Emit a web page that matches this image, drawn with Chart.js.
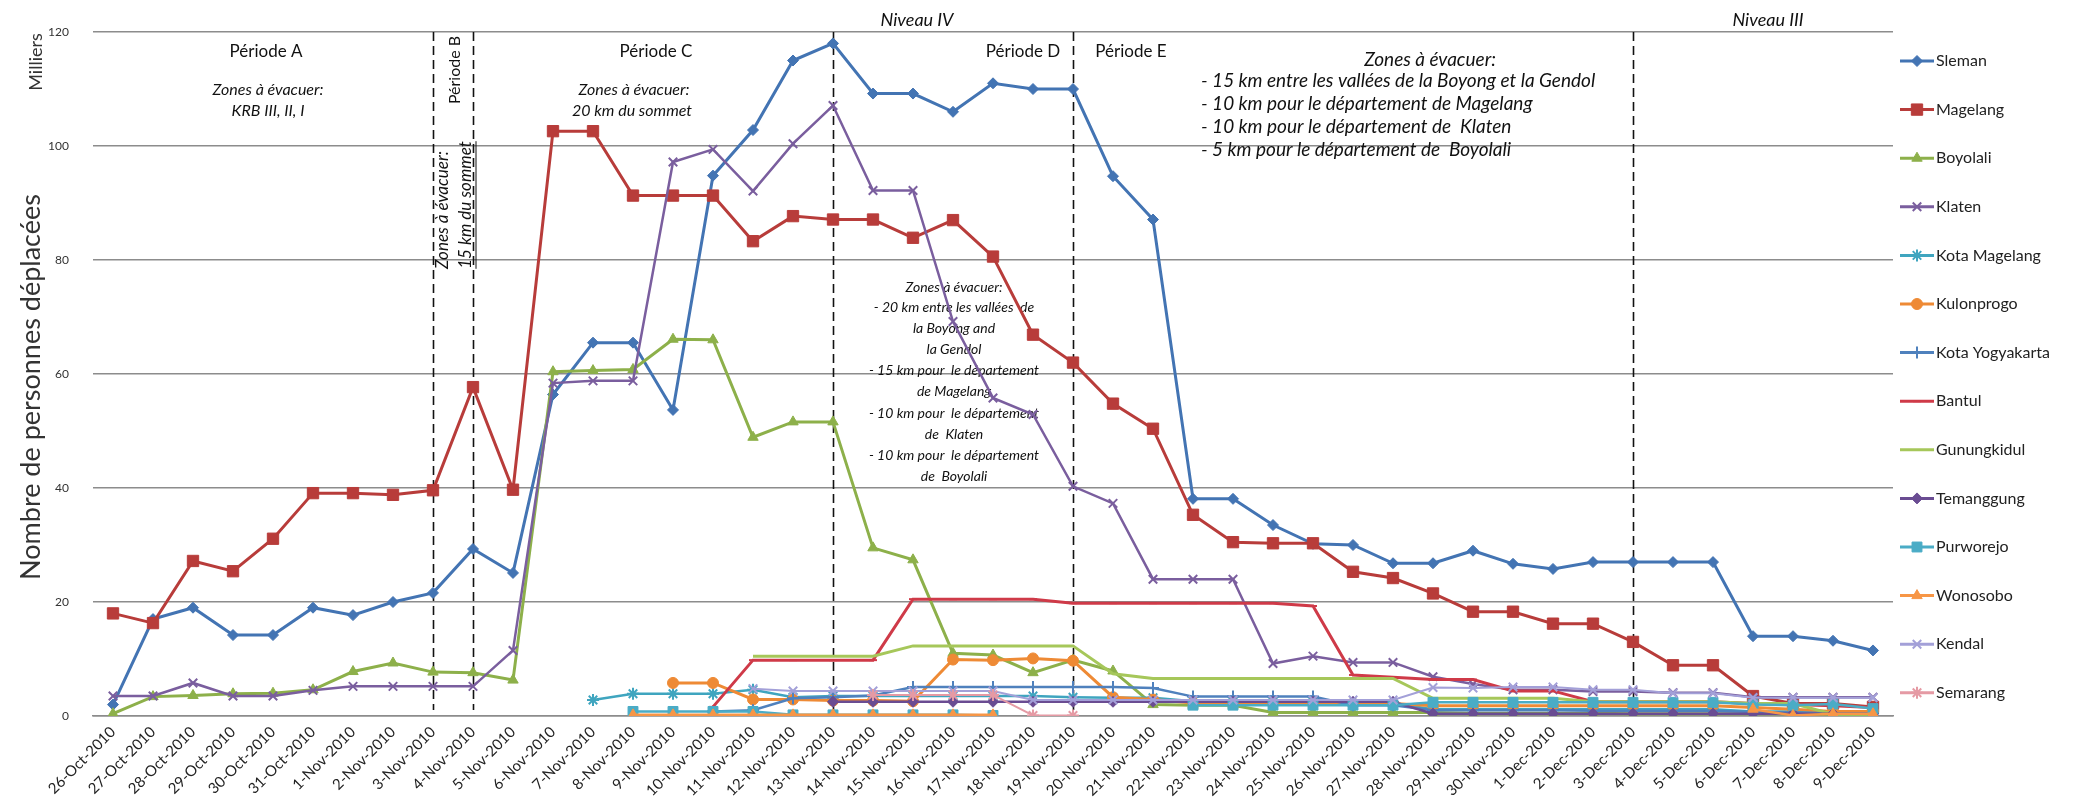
<!DOCTYPE html>
<html>
<head>
<meta charset="utf-8">
<script src="https://cdn.jsdelivr.net/npm/chart.js@4.4.1/dist/chart.umd.min.js"></script>
<style>
  html, body { margin: 0; padding: 0; background: #fff; }
  #wrap { width: 2085px; height: 808px; }
</style>
</head>
<body>
<div id="wrap"><canvas id="chart" width="2085" height="808"></canvas></div>
<script>
// categories
const dates = ['26-Oct-2010','27-Oct-2010','28-Oct-2010','29-Oct-2010','30-Oct-2010','31-Oct-2010',
  '1-Nov-2010','2-Nov-2010','3-Nov-2010','4-Nov-2010','5-Nov-2010','6-Nov-2010','7-Nov-2010','8-Nov-2010',
  '9-Nov-2010','10-Nov-2010','11-Nov-2010','12-Nov-2010','13-Nov-2010','14-Nov-2010','15-Nov-2010',
  '16-Nov-2010','17-Nov-2010','18-Nov-2010','19-Nov-2010','20-Nov-2010','21-Nov-2010','22-Nov-2010',
  '23-Nov-2010','24-Nov-2010','25-Nov-2010','26-Nov-2010','27-Nov-2010','28-Nov-2010','29-Nov-2010',
  '30-Nov-2010','1-Dec-2010','2-Dec-2010','3-Dec-2010','4-Dec-2010','5-Dec-2010','6-Dec-2010',
  '7-Dec-2010','8-Dec-2010','9-Dec-2010'];

// series values (milliers)
const sleman = [2, 17, 19, 14.2, 14.2, 19, 17.7, 20, 21.6, 29.3, 25.1, 56.4, 65.5, 65.5, 53.7,
  94.8, 102.8, 115, 118, 109.2, 109.2, 106, 111, 110, 110, 94.7, 87.1, 38.1, 38.1, 33.5,
  30.2, 30, 26.8, 26.8, 29, 26.7, 25.8, 27, 27, 27, 27, 14, 14, 13.2, 11.5];
const magelang = [18, 16.3, 27.2, 25.4, 31.1, 39.1, 39.1, 38.8, 39.6, 57.7, 39.7, 102.6, 102.6, 91.3, 91.3,
  91.3, 83.3, 87.7, 87.1, 87.1, 83.9, 87, 80.6, 66.9, 62, 54.8, 50.4, 35.3, 30.5, 30.3,
  30.3, 25.3, 24.2, 21.5, 18.3, 18.3, 16.2, 16.2, 13, 8.9, 8.9, 3.5, 2.2, 2.2, 1.6];
const boyolali = [0.4, 3.4, 3.6, 3.9, 4, 4.6, 7.8, 9.3, 7.7, 7.6, 6.3, 60.4, 60.6, 60.8, 66.1,
  66, 48.9, 51.6, 51.6, 29.5, 27.4, 11, 10.7, 7.6, 9.8, 7.9, 2, 1.9, 1.9, 0.6,
  0.6, 0.6, 0.6, 0.6, 0.5, 0.5, 0.5, 0.5, 0.4, 0.4, 0.4, 0.4, 0.4, 0.3, 0.3];
const klaten = [3.5, 3.5, 5.8, 3.5, 3.5, 4.5, 5.2, 5.2, 5.2, 5.2, 11.5, 58.4, 58.8, 58.8, 97.2,
  99.4, 92.1, 100.4, 107.1, 92.2, 92.2, 69.2, 55.8, 52.9, 40.3, 37.3, 24, 24, 24, 9.2,
  10.5, 9.4, 9.4, 6.9, 5.6, 4.6, 4.6, 4.3, 4.3, 4.1, 4.1, 3.3, 3.3, 3.3, 3.3];
const kotaMagelang = [null, null, null, null, null, null, null, null, null, null, null, null, 2.8, 3.9, 3.9,
  3.9, 4.6, 3.3, 3.5, 3.5, 3.5, 3.5, 3.5, 3.5, 3.3, 3.2, 3.2, 2.6, 2.5, 2.5,
  2.5, 2.2, 2.2, 1.2, 1.2, 1.2, 1.2, 1.2, 1.2, 1.2, 1.2, 0.8, 0.8, 0.5, 0.5];
const kulonprogo = [null, null, null, null, null, null, null, null, null, null, null, null, null, null, 5.8,
  5.8, 2.9, 2.9, 2.7, 2.7, 2.6, 9.9, 9.8, 10.1, 9.7, 3.3, 2.9, 2.3, 2.2, 2.2,
  2.2, 2.2, 2.2, 1.8, 1.8, 1.8, 1.8, 1.8, 1.8, 1.8, 1.8, 1.5, 1.2, 0.8, 0.8];
const kotaYogyakarta = [null, null, null, null, null, null, null, null, null, null, null, null, null, null, null,
  0.8, 1.0, 3.1, 3.3, 3.6, 5.1, 5.1, 5.1, 5.1, 5.1, 5.1, 4.9, 3.4, 3.4, 3.4,
  3.4, 1.9, 1.9, 1.0, 1.0, 1.0, 1.0, 0.9, 0.9, 0.9, 0.9, 0.7, 0.6, 0.5, 0.5];
const bantul = [null, null, null, null, null, null, null, null, null, null, null, null, null, null, null,
  1.6, 9.8, 9.8, 9.8, 9.8, 20.5, 20.5, 20.5, 20.5, 19.8, 19.8, 19.8, 19.8, 19.8, 19.8,
  19.3, 7.2, 6.8, 6.4, 6.4, 4.4, 4.4, 2.5, 2.5, 2.5, 2.5, 2.2, 2.0, 1.8, 1.5];
const gunungkidul = [null, null, null, null, null, null, null, null, null, null, null, null, null, null, null,
  null, 10.5, 10.5, 10.5, 10.5, 12.3, 12.3, 12.3, 12.3, 12.3, 7.4, 6.6, 6.6, 6.6, 6.6,
  6.6, 6.6, 6.6, 3.1, 3.1, 3.1, 3.1, 2.5, 2.5, 2.5, 2.5, 2.2, 2.2, 0.3, 0.3];
const temanggung = [null, null, null, null, null, null, null, null, null, null, null, null, null, null, null,
  null, null, null, 2.5, 2.5, 2.5, 2.5, 2.5, 2.5, 2.5, 2.5, 2.5, 2.5, 2.5, 2.5,
  2.5, 2.5, 2.5, 0.4, 0.4, 0.4, 0.4, 0.4, 0.4, 0.4, 0.4, 0.4, 0.4, 0.4, 0.4];
const purworejo = [null, null, null, null, null, null, null, null, null, null, null, null, null, 0.8, 0.8,
  0.8, 0.8, 0.2, 0.2, 0.2, 0.2, 0.2, 0.1, null, null, null, null, 1.9, 1.9, 1.9,
  1.9, 1.9, 1.9, 2.4, 2.4, 2.4, 2.4, 2.4, 2.4, 2.4, 2.4, 2.0, 1.9, 2.1, 1.3];
const wonosobo = [null, null, null, null, null, null, null, null, null, null, null, null, null, 0.2, 0.2,
  0.2, 0.2, 0.2, 0.2, 0.2, 0.2, 0.2, 0.2, null, null, null, null, null, null, null,
  null, null, null, null, null, null, null, null, null, null, null, 1.2, 0.1, 0.4, 0.4];
const kendal = [null, null, null, null, null, null, null, null, null, null, null, null, null, null, null,
  null, 4.8, 4.4, 4.4, 4.4, 4.4, 4.4, 4.4, 2.8, 2.8, 2.8, 2.8, 2.8, 2.8, 2.8,
  2.8, 2.8, 2.8, 5.0, 4.9, 5.1, 5.1, 4.6, 4.6, 4.0, 4.0, 3.2, 3.2, 3.2, 3.2];
const semarang = [null, null, null, null, null, null, null, null, null, null, null, null, null, null, null,
  null, null, null, null, 3.7, 3.7, 3.7, 3.7, 0.1, 0.1, null, null, null, null, null,
  null, null, null, null, null, null, null, null, null, null, null, null, null, null, null];

const seriesNames = ['Sleman', 'Magelang', 'Boyolali', 'Klaten', 'Kota Magelang', 'Kulonprogo',
  'Kota Yogyakarta', 'Bantul', 'Gunungkidul', 'Temanggung', 'Purworejo', 'Wonosobo', 'Kendal', 'Semarang'];
const seriesValues = [sleman, magelang, boyolali, klaten, kotaMagelang, kulonprogo, kotaYogyakarta,
  bantul, gunungkidul, temanggung, purworejo, wonosobo, kendal, semarang];
const yTicks = [0, 20, 40, 60, 80, 100, 120];
const periodLines = ['3-Nov-2010', '4-Nov-2010', '13-Nov-2010', '19-Nov-2010', '3-Dec-2010'];

// look of each series (colour, marker, marker size, line width)
const looks = [
  { c: '#4374B3', p: 'rectRot', r: 5.5, w: 3 },
  { c: '#B83C3A', p: 'rect', r: 8, w: 3 },
  { c: '#8DB04A', p: 'triangle', r: 6, w: 3 },
  { c: '#7A5E9E', p: 'crossRot', r: 6, w: 2.5 },
  { c: '#3FA5BF', p: 'star', r: 6, w: 2.5 },
  { c: '#EE8A35', p: 'circle', r: 5.5, w: 3 },
  { c: '#4F81BD', p: 'cross', r: 6, w: 2.5 },
  { c: '#CF3A48', p: 'line', r: 4, w: 3 },
  { c: '#A6C75A', p: 'line', r: 0, w: 3 },
  { c: '#6A4C92', p: 'rectRot', r: 5.5, w: 2.5 },
  { c: '#4AACC6', p: 'rect', r: 7, w: 2.5 },
  { c: '#F79646', p: 'triangle', r: 6, w: 2.5 },
  { c: '#A3A0D8', p: 'crossRot', r: 6, w: 2 },
  { c: '#E59AA4', p: 'star', r: 6, w: 2 }
];

const FONT = 'Lato, "Open Sans", sans-serif';

// texts on the plot (pixel positions)
const notes = [
  { t: 'Niveau IV', x: 917, y: 20, f: 'italic 18px' },
  { t: 'Niveau III', x: 1768, y: 20, f: 'italic 18px' },
  { t: 'Période A', x: 266, y: 52, f: '17px' },
  { t: 'Zones à évacuer:', x: 268, y: 90, f: 'italic 16px' },
  { t: 'KRB III, II, I', x: 268, y: 111, f: 'italic 16px' },
  { t: 'Période C', x: 656, y: 52, f: '17px' },
  { t: 'Zones à évacuer:', x: 634, y: 90, f: 'italic 16px' },
  { t: '20 km du sommet', x: 632, y: 111, f: 'italic 16px' },
  { t: 'Période D', x: 1023, y: 52, f: '17px' },
  { t: 'Période E', x: 1131, y: 52, f: '17px' },
  { t: 'Zones à évacuer:', x: 1430, y: 60, f: 'italic 19px' },
  { t: '- 15 km entre les vallées de la Boyong et la Gendol', x: 1201, y: 81, f: 'italic 19px', a: 'left' },
  { t: '- 10 km pour le département de Magelang', x: 1201, y: 104, f: 'italic 19px', a: 'left' },
  { t: '- 10 km pour le département de  Klaten', x: 1201, y: 127, f: 'italic 19px', a: 'left' },
  { t: '- 5 km pour le département de  Boyolali', x: 1201, y: 150, f: 'italic 19px', a: 'left' },
  { t: 'Zones à évacuer:', x: 954, y: 287, f: 'italic 14px' },
  { t: '- 20 km entre les vallées  de', x: 954, y: 307, f: 'italic 14px' },
  { t: 'la Boyong and', x: 954, y: 328, f: 'italic 14px' },
  { t: 'la Gendol', x: 954, y: 349, f: 'italic 14px' },
  { t: '- 15 km pour  le département', x: 954, y: 370, f: 'italic 14px' },
  { t: 'de Magelang', x: 954, y: 391, f: 'italic 14px' },
  { t: '- 10 km pour  le département', x: 954, y: 413, f: 'italic 14px' },
  { t: 'de  Klaten', x: 954, y: 434, f: 'italic 14px' },
  { t: '- 10 km pour  le département', x: 954, y: 455, f: 'italic 14px' },
  { t: 'de  Boyolali', x: 954, y: 476, f: 'italic 14px' },
  { t: 'Période B', x: 455, y: 70, f: '16px', rot: true },
  { t: 'Zones à évacuer:', x: 443, y: 210, f: 'italic 17px', rot: true },
  { t: '15 km du sommet', x: 466, y: 205, f: 'italic 17px', rot: true, u: true },
  { t: 'Milliers', x: 36, y: 62, f: '18px', rot: true, col: '#333' },
  { t: 'Nombre de personnes déplacées', x: 31, y: 387, f: '27px', rot: true, col: '#333' }
];

const decor = {
  id: 'decor',
  beforeDatasetsDraw(chart) {
    const ctx = chart.ctx, x = chart.scales.x, a = chart.chartArea;
    ctx.save();
    ctx.strokeStyle = '#111';
    ctx.lineWidth = 1.6;
    ctx.setLineDash([9, 5]);
    periodLines.forEach(d => {
      const px = Math.round(x.getPixelForValue(dates.indexOf(d))) + 0.5;
      ctx.beginPath();
      ctx.moveTo(px, a.top);
      ctx.lineTo(px, a.bottom - 6);
      ctx.stroke();
    });
    ctx.setLineDash([]);
    notes.forEach(n => {
      ctx.save();
      ctx.font = n.f + ' ' + FONT;
      ctx.fillStyle = n.col || '#111';
      ctx.textAlign = n.a || 'center';
      ctx.textBaseline = 'middle';
      ctx.translate(n.x, n.y);
      if (n.rot) ctx.rotate(-Math.PI / 2);
      ctx.fillText(n.t, 0, 0);
      if (n.u) {
        const w = ctx.measureText(n.t).width;
        ctx.strokeStyle = '#111';
        ctx.lineWidth = 1;
        ctx.beginPath();
        ctx.moveTo(-w / 2, 10);
        ctx.lineTo(w / 2, 10);
        ctx.stroke();
      }
      ctx.restore();
    });
    ctx.restore();
  },
  afterDraw(chart) {
    // legend on the right
    const ctx = chart.ctx;
    ctx.save();
    chart.data.datasets.forEach((ds, i) => {
      const y = 61 + i * 48.6;
      ctx.strokeStyle = ds.borderColor;
      ctx.lineWidth = 3;
      ctx.beginPath();
      ctx.moveTo(1900, y);
      ctx.lineTo(1934, y);
      ctx.stroke();
      if (ds.pointRadius > 0 && Chart.helpers && Chart.helpers.drawPoint) {
        ctx.fillStyle = ds.pointBackgroundColor;
        ctx.strokeStyle = ds.pointBorderColor;
        ctx.lineWidth = ds.pointBorderWidth;
        Chart.helpers.drawPoint(ctx, { pointStyle: ds.pointStyle, radius: ds.pointRadius, rotation: 0, borderWidth: ds.pointBorderWidth }, 1917, y);
      }
      ctx.fillStyle = '#222';
      ctx.font = '16px ' + FONT;
      ctx.textAlign = 'left';
      ctx.textBaseline = 'middle';
      ctx.fillText(ds.label, 1936, y);
    });
    ctx.restore();
  }
};

const datasets = seriesNames.map((name, i) => {
  const l = looks[i];
  const lineMarker = ['crossRot', 'cross', 'star', 'line'].includes(l.p);
  return {
    label: name,
    data: seriesValues[i],
    borderColor: l.c,
    backgroundColor: l.c,
    borderWidth: l.w,
    pointStyle: l.p,
    pointRadius: l.r,
    pointHoverRadius: l.r,
    pointBackgroundColor: l.c,
    pointBorderColor: l.c,
    pointBorderWidth: lineMarker ? 2 : 1,
    tension: 0,
    spanGaps: false,
    order: seriesNames.length - i
  };
});

new Chart(document.getElementById('chart').getContext('2d'), {
  type: 'line',
  data: { labels: dates, datasets: datasets },
  options: {
    responsive: false,
    animation: false,
    devicePixelRatio: 1,
    layout: { padding: { left: 0, right: 192, top: 32, bottom: 0 } },
    plugins: { legend: { display: false }, tooltip: { enabled: false } },
    scales: {
      x: {
        type: 'category',
        offset: true,
        afterFit: s => { s.height = 92; },
        grid: { display: false, drawTicks: false },
        border: { display: true, color: '#8c8c8c', width: 1.5 },
        ticks: {
          autoSkip: false,
          minRotation: 45,
          maxRotation: 45,
          padding: 7,
          color: '#222',
          font: { family: FONT, size: 15 }
        }
      },
      y: {
        min: 0,
        max: 120,
        afterFit: s => { s.width = 93; },
        afterBuildTicks: s => { s.ticks = yTicks.map(v => ({ value: v })); },
        grid: { color: '#8c8c8c', lineWidth: 1.4, drawTicks: false },
        border: { display: false },
        ticks: { padding: 24, color: '#333', font: { family: FONT, size: 12 } }
      }
    }
  },
  plugins: [decor]
});
</script>
</body>
</html>
